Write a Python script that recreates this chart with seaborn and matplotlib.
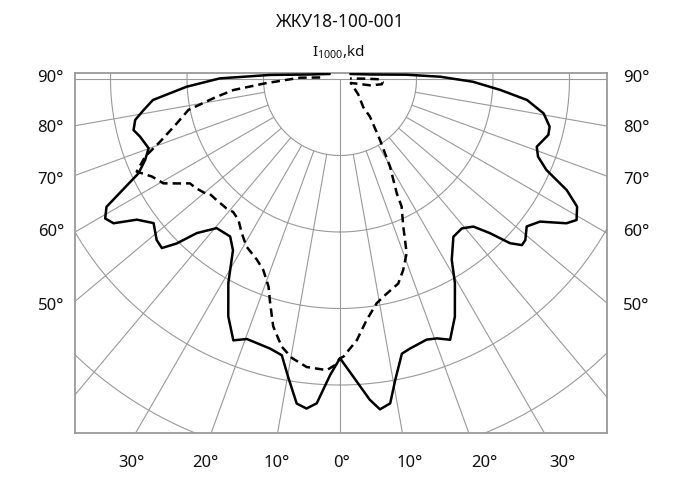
import numpy as np
import pandas as pd
import matplotlib
matplotlib.use("Agg")
import matplotlib.pyplot as plt
import seaborn as sns

# ---------------- data ----------------
title = "ЖКУ18-100-001"
unit_label = r"I$\mathregular{_{1000}}$,kd"
ring_values = [50, 100, 150, 200, 250]
radial_angles = [-90, -80, -70, -60, -50, -40, -30, -20, -10, 0,
                 10, 20, 30, 40, 50, 60, 70, 80, 90]
side_labels = ["90°", "80°", "70°", "60°", "50°"]
bottom_labels = ["30°", "20°", "10°", "0°", "10°", "20°", "30°"]

solid_angles = [-116, -98.5, -93.3, -90.3, -87.1, -83.6, -81.0, -78.7, -76.1, -73.9,
                -70.1, -67.4, -64.9, -62.9, -61.3, -59.3, -57.5, -55.3, -52.3, -48.7,
                -46.5, -44.8, -42.9, -39.6, -34.9, -32.0, -28.7, -25.2, -22.2, -19.7,
                -14.6, -11.9, -9.9, -7.6, -5.8, -4.1, -1.9, 0,
                2.6, 5.3, 6.9, 8.8, 10.4, 12.7, 14.6, 18.4, 20.5, 22.9,
                25.8, 29.4, 31.7, 35.7, 39.2, 42.1, 44.2, 46.0, 47.6, 49.0,
                51.7, 54.5, 57.5, 59.2, 61.7, 63.9, 66.2, 68.6, 71.0, 75.0,
                77.2, 80.4, 83.6, 86.1, 88.8, 91.3, 93.7, 98.5, 116]
solid_values = [7.5, 20, 46, 78.5, 100.5, 123, 130, 136.5, 139, 136,
                133, 138, 145.5, 160, 174, 178.5, 175.5, 161.5, 154, 159.5,
                160.5, 151.5, 137.5, 126.5, 125.5, 132, 152, 171.5, 184.5, 180.5,
                182, 184.5, 197.5, 214, 216.5, 212.5, 193.5, 182.5,
                195, 210.5, 217.5, 214.5, 200, 184, 182, 179.5, 181, 185,
                172.5, 153, 139, 127, 126, 130, 140.5, 154.5, 161, 160.5,
                155.5, 160.5, 175.5, 180, 176, 165, 147.5, 139, 136, 141,
                140.5, 135, 123, 105, 87, 65.5, 43.5, 20, 7.5]

dashed_angles = [-94.3, -91.9, -86.7, -84.1, -81.8, -78.5, -74.8, -70.8, -68.3, -65.5,
                 -62.6, -59.4, -56.9, -55.2, -52.7, -49.7, -48.5, -45.5, -41.2, -38.8,
                 -35.8, -32.5, -29.1, -24.7, -21.9, -19.0, -17.3, -15.1, -12.3, -9.8,
                 -6.6, -2.6, -1.0, 0, 0.7, 3.7, 6.3, 9.3, 11.3, 15.9,
                 18.3, 20.9, 22.0, 23.2, 25.8, 26.4, 29.7, 33.3, 38.5, 39.5,
                 50, 70, 78.1, 82.8, 86, 89.6, 90.6, 92.9]
dashed_values = [13, 26, 49, 70, 81.5, 101, 110.5, 124.5, 137, 146,
                 138.5, 134, 125, 119.5, 118, 115.5, 113.5, 113, 112.5, 111.5,
                 113.5, 119.5, 125.5, 130, 134.5, 143.5, 153.5, 167.5, 179, 185,
                 189.5, 190.5, 187, 182.5, 181.5, 171, 158.5, 148.5, 145, 139,
                 131.5, 122, 113.5, 105, 92.5, 83.5, 66, 47.5, 31.5, 24,
                 15.5, 7.5, 20, 27.5, 28, 26, 17.5, 6.5]

# ---------------- style ----------------
sns.set_style("white")
plt.rcParams['font.family'] = ['Noto Sans', 'DejaVu Sans']
plt.rcParams['mathtext.default'] = 'regular'

W, H = 691, 498
fig = plt.figure(figsize=(W / 100, H / 100), dpi=100)
# frame in pixels: left 75, right 607, top 73, bottom 433; pole at (340, 79)
ax = fig.add_axes([75 / W, 1 - 433 / H, 532 / W, 360 / H])
scale = 76.5 / 50.0  # pixels per intensity unit
ax.set_xlim((75 - 340) / scale, (607 - 340) / scale)
ax.set_ylim(-(433 - 79) / scale, (79 - 73) / scale)

grid_col = "#9a9a9a"
t = np.linspace(0, 2 * np.pi, 721)
for rv in ring_values:
    ax.plot(rv * np.sin(t), -rv * np.cos(t), color=grid_col, lw=0.8, zorder=1)
for a in radial_angles:
    r0 = 0 if a in (-90, 0, 90) else ring_values[0]
    ar = np.deg2rad(a)
    ax.plot([r0 * np.sin(ar), 500 * np.sin(ar)], [-r0 * np.cos(ar), -500 * np.cos(ar)],
            color=grid_col, lw=0.8, zorder=1)


def to_xy(angles, values):
    a = np.deg2rad(np.asarray(angles, dtype=float))
    v = np.asarray(values, dtype=float)
    return pd.DataFrame({"x": v * np.sin(a), "y": -v * np.cos(a)})


sns.lineplot(data=to_xy(solid_angles, solid_values), x="x", y="y", sort=False,
             estimator=None, color="black", lw=1.8, ax=ax, zorder=3,
             solid_joinstyle="round")
sns.lineplot(data=to_xy(dashed_angles, dashed_values), x="x", y="y", sort=False,
             estimator=None, color="black", lw=1.8, ax=ax, zorder=3,
             linestyle=(0, (3.4, 2.0)))

ax.set_xlabel("")
ax.set_ylabel("")
ax.set_xticks([])
ax.set_yticks([])
for s in ax.spines.values():
    s.set_color(grid_col)
    s.set_linewidth(1.3)
    s.set_visible(True)


def ftext(px, py, s, **kw):
    fig.text(px / W, 1 - py / H, s, **kw)


txt_col = "#111111"
ftext(340, 27, title, ha="center", va="baseline", fontsize=12.5, color=txt_col)
ftext(338, 57, unit_label, ha="center", va="baseline", fontsize=11, color=txt_col)

side_baselines = [81.5, 132, 184, 235.5, 309.5]
for lab, yb in zip(side_labels, side_baselines):
    ftext(64, yb, lab, ha="right", va="baseline", fontsize=12, color=txt_col)
    ftext(623, yb, lab, ha="left", va="baseline", fontsize=12, color=txt_col)

bottom_centers = [131, 205, 277, 342, 410, 484, 562]
for lab, xc in zip(bottom_labels, bottom_centers):
    ftext(xc, 467, lab, ha="center", va="baseline", fontsize=12, color=txt_col)

fig.savefig("out.png", dpi=100)
